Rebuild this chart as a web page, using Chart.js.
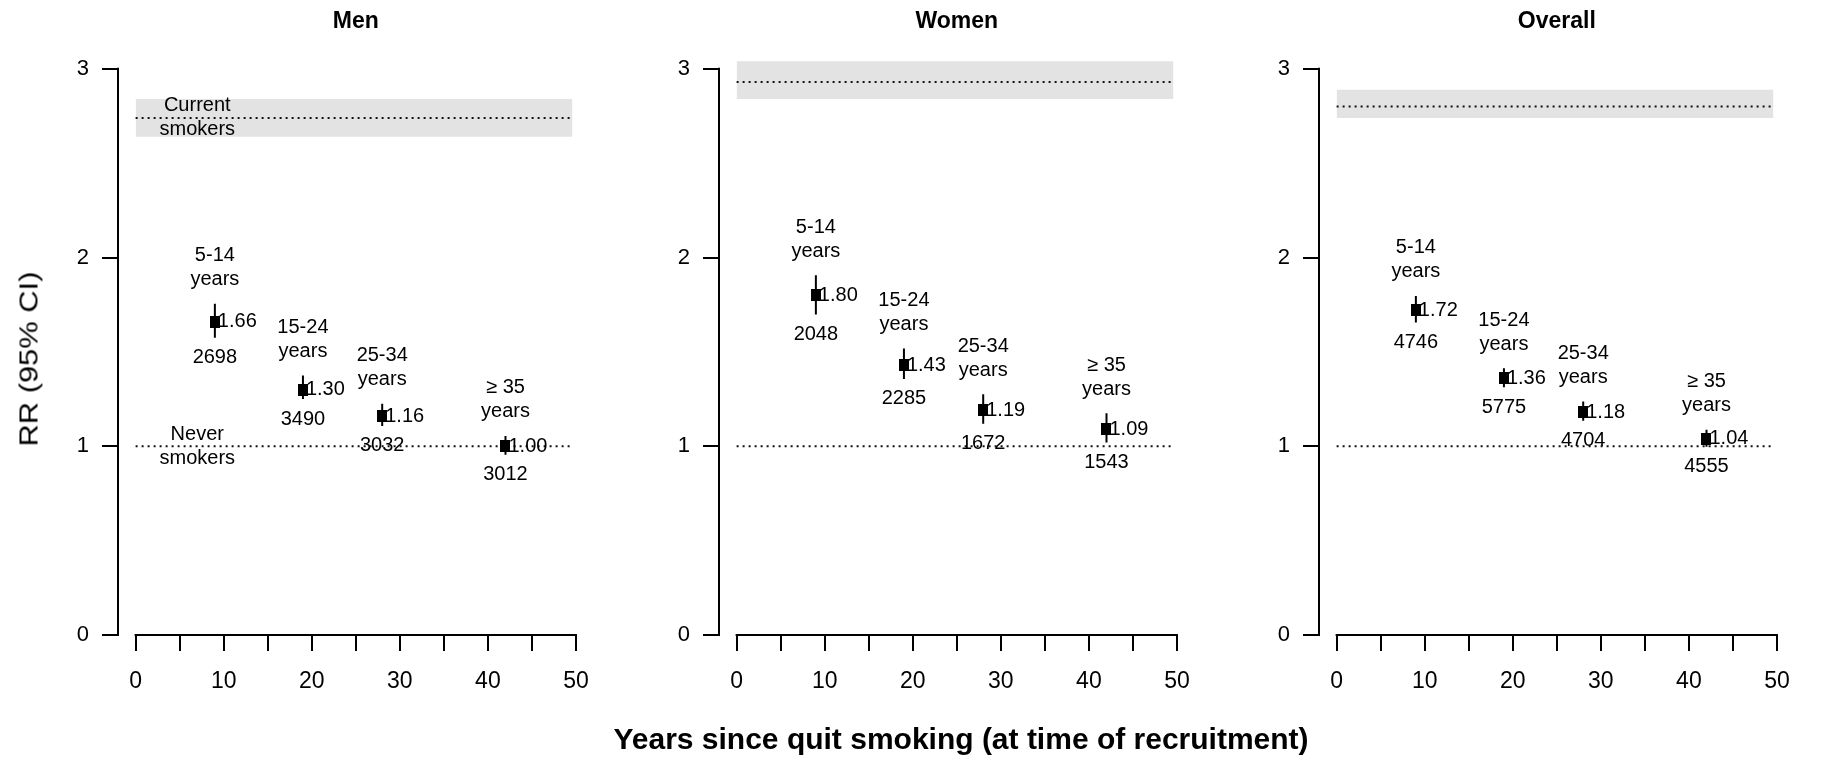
<!DOCTYPE html>
<html>
<head>
<meta charset="utf-8">
<script src="https://cdn.jsdelivr.net/npm/chart.js@4.4.1/dist/chart.umd.min.js"></script>
<style>
  body { margin: 0; background: #fff; }
  #wrap { position: relative; width: 1821px; height: 765px; overflow: hidden; background: #fff;
          font-family: "Liberation Sans", Arial, sans-serif; color: #000; }
  #wrap canvas { position: absolute; top: 0; }
  #ytitle { position: absolute; left: 29px; top: 359px; font-size: 25px; line-height: 1; white-space: nowrap;
            transform: translate(-50%, -50%) rotate(-90deg) scaleX(1.235); }
  #xtitle { position: absolute; left: 961px; top: 739px; font-size: 30px; font-weight: bold; line-height: 1;
            white-space: nowrap; transform: translate(-50%, -50%); }
</style>
</head>
<body>
<div id="wrap">
  <canvas id="c0" width="606" height="765" style="left:0px"></canvas>
  <canvas id="c1" width="606" height="765" style="left:601px"></canvas>
  <canvas id="c2" width="606" height="765" style="left:1201px"></canvas>
  <div id="ytitle">RR (95% CI)</div>
  <div id="xtitle">Years since quit smoking (at time of recruitment)</div>
</div>
<script>
// years since quitting (group midpoints) and group names
const years = [9, 19, 28, 42];
const groupNames = ['5-14', '15-24', '25-34', '≥ 35'];
const panelTitles = ['Men', 'Women', 'Overall'];

// relative risks with 95% CI and number of participants per group
const rrMen = [1.66, 1.30, 1.16, 1.00];
const loMen = [1.575, 1.25, 1.108, 0.955];
const hiMen = [1.755, 1.375, 1.225, 1.055];
const nMen = [2698, 3490, 3032, 3012];

const rrWomen = [1.80, 1.43, 1.19, 1.09];
const loWomen = [1.698, 1.357, 1.119, 1.020];
const hiWomen = [1.907, 1.518, 1.276, 1.175];
const nWomen = [2048, 2285, 1672, 1543];

const rrAll = [1.72, 1.36, 1.18, 1.04];
const loAll = [1.656, 1.313, 1.136, 0.998];
const hiAll = [1.797, 1.414, 1.237, 1.087];
const nAll = [4746, 5775, 4704, 4555];

// current smokers (Men, Women, Overall) and never smokers reference
const currentRR = [2.74, 2.93, 2.80];
const currentLo = [2.64, 2.84, 2.74];
const currentHi = [2.84, 3.04, 2.89];
const neverRR = 1;

const yTicks = [0, 1, 2, 3];
const xTicks = [0, 5, 10, 15, 20, 25, 30, 35, 40, 45, 50];

const FONT = "'Liberation Sans', Arial, sans-serif";
Chart.defaults.font.family = FONT;
Chart.defaults.color = '#000';

// filled 10x12 box used as the point marker
const marker = document.createElement('canvas');
marker.width = 10;
marker.height = 12;
marker.getContext('2d').fillRect(0, 0, 10, 12);

const panels = [
  { rr: rrMen, lo: loMen, hi: hiMen, n: nMen },
  { rr: rrWomen, lo: loWomen, hi: hiWomen, n: nWomen },
  { rr: rrAll, lo: loAll, hi: hiAll, n: nAll }
];

// axis lines, panel title and the text next to each estimate
const annotate = {
  id: 'annotate',
  afterDraw(chart, args, opts) {
    const ctx = chart.ctx;
    const xs = chart.scales.x, ys = chart.scales.y;
    const p = panels[opts.panel];
    ctx.save();
    ctx.strokeStyle = '#000';
    ctx.lineWidth = 2;
    ctx.lineCap = 'square';
    ctx.beginPath();
    ctx.moveTo(chart.chartArea.left, ys.getPixelForValue(0));
    ctx.lineTo(chart.chartArea.left, ys.getPixelForValue(3));
    ctx.moveTo(xs.getPixelForValue(0), ys.getPixelForValue(0));
    ctx.lineTo(xs.getPixelForValue(50), ys.getPixelForValue(0));
    ctx.stroke();

    ctx.fillStyle = '#000';
    ctx.textBaseline = 'middle';
    ctx.textAlign = 'center';
    ctx.font = 'bold 23px ' + FONT;
    ctx.fillText(panelTitles[opts.panel], xs.getPixelForValue(25), 22);

    ctx.font = '20px ' + FONT;
    years.forEach((yr, i) => {
      const px = xs.getPixelForValue(yr);
      const top = ys.getPixelForValue(p.hi[i]);
      ctx.textAlign = 'left';
      ctx.fillText(p.rr[i].toFixed(2), px + 3, ys.getPixelForValue(p.rr[i]));
      ctx.textAlign = 'center';
      ctx.fillText(groupNames[i], px, top - 48);
      ctx.fillText('years', px, top - 24);
      ctx.fillText(String(p.n[i]), px, ys.getPixelForValue(p.lo[i]) + 20);
    });

    if (opts.panel === 0) {
      const lx = xs.getPixelForValue(7);
      const cy = ys.getPixelForValue(currentRR[0]);
      const ny = ys.getPixelForValue(neverRR);
      ctx.fillText('Current', lx, cy - 12);
      ctx.fillText('smokers', lx, cy + 12);
      ctx.fillText('Never', lx, ny - 12);
      ctx.fillText('smokers', lx, ny + 12);
    }
    ctx.restore();
  }
};

function tickGrid() {
  return { drawOnChartArea: false, drawTicks: true, tickLength: 16, color: '#000', lineWidth: 2 };
}

panels.forEach((p, k) => {
  const ciData = [];
  years.forEach((x, i) => {
    ciData.push({ x: x, y: p.lo[i] }, { x: x, y: p.hi[i] }, { x: x, y: null });
  });

  new Chart(document.getElementById('c' + k), {
    type: 'line',
    data: {
      datasets: [
        {
          data: years.map((x, i) => ({ x: x, y: p.rr[i] })),
          showLine: false,
          pointStyle: marker,
          pointRadius: 6
        },
        {
          data: ciData,
          borderColor: '#000',
          borderWidth: 2,
          pointRadius: 0,
          spanGaps: false
        },
        {
          data: [{ x: 0, y: neverRR }, { x: 49.5, y: neverRR }],
          borderColor: '#111',
          borderWidth: 2,
          borderDash: [2, 4],
          pointRadius: 0
        },
        {
          data: [{ x: 0, y: currentRR[k] }, { x: 49.5, y: currentRR[k] }],
          borderColor: '#111',
          borderWidth: 2,
          borderDash: [2, 4],
          pointRadius: 0
        },
        {
          data: [{ x: 0, y: currentHi[k] }, { x: 49.6, y: currentHi[k] }],
          borderColor: 'rgba(0,0,0,0)',
          borderWidth: 0,
          pointRadius: 0,
          fill: { value: currentLo[k] },
          backgroundColor: '#e3e3e3'
        }
      ]
    },
    options: {
      responsive: false,
      animation: false,
      devicePixelRatio: 1,
      layout: { padding: { top: 50, right: 5, bottom: 0, left: 0 } },
      plugins: {
        legend: { display: false },
        tooltip: { enabled: false },
        annotate: { panel: k }
      },
      scales: {
        x: {
          type: 'linear',
          min: -2,
          max: 52,
          afterBuildTicks: s => { s.ticks = xTicks.map(v => ({ value: v })); },
          afterFit: s => { s.height = 130; },
          grid: tickGrid(),
          border: { display: false },
          ticks: {
            padding: 17,
            autoSkip: false,
            maxRotation: 0,
            font: { size: 23 },
            callback: v => (v % 10 === 0 ? String(v) : '')
          }
        },
        y: {
          type: 'linear',
          min: 0,
          max: 3.1,
          afterBuildTicks: s => { s.ticks = yTicks.map(v => ({ value: v })); },
          afterFit: s => { s.width = 118; },
          grid: tickGrid(),
          border: { display: false },
          ticks: {
            padding: 13,
            font: { size: 22 },
            callback: v => String(v)
          }
        }
      }
    },
    plugins: [annotate]
  });
});
</script>
</body>
</html>
